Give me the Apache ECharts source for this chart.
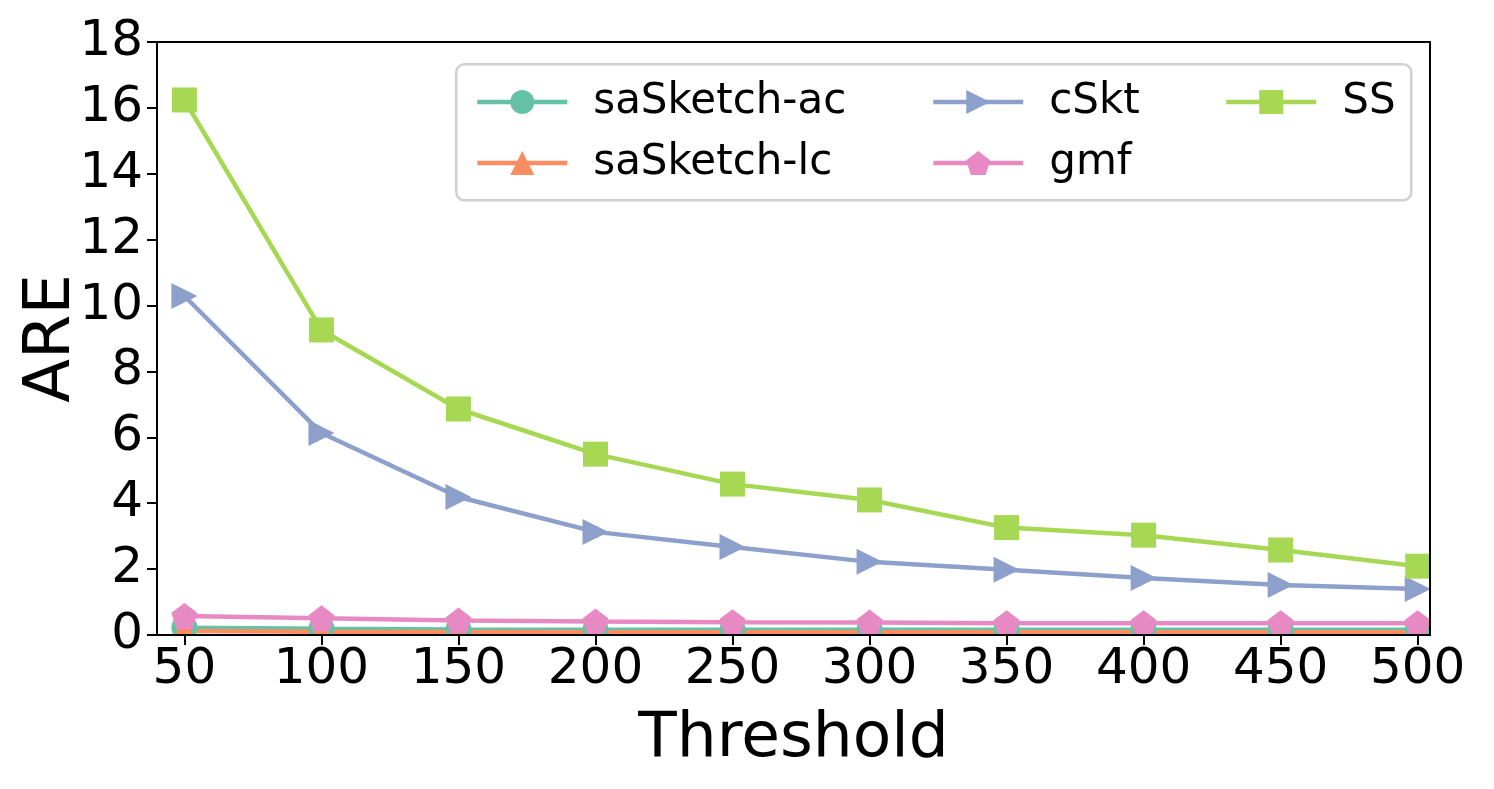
<!DOCTYPE html>
<html>
<head>
<meta charset="utf-8">
<script src="https://cdn.jsdelivr.net/npm/echarts@6/dist/echarts.min.js"></script>
<style>html,body{margin:0;padding:0;background:#fff}#c{width:1494px;height:789px}</style>
</head>
<body>
<div id="c"></div>
<script>
const thresholds = [50, 100, 150, 200, 250, 300, 350, 400, 450, 500];
const saSketchAc = [0.22, 0.19, 0.17, 0.16, 0.16, 0.16, 0.16, 0.16, 0.16, 0.16];
const saSketchLc = [0.12, 0.10, 0.09, 0.08, 0.08, 0.08, 0.08, 0.08, 0.08, 0.08];
const cSkt = [10.29, 6.13, 4.19, 3.13, 2.67, 2.22, 1.98, 1.73, 1.52, 1.40];
const gmf = [0.58, 0.51, 0.44, 0.41, 0.39, 0.38, 0.36, 0.36, 0.36, 0.36];
const SS = [16.24, 9.26, 6.86, 5.49, 4.58, 4.10, 3.26, 3.03, 2.58, 2.09];
const yTicks = [0, 2, 4, 6, 8, 10, 12, 14, 16, 18];

const colors = ['#66c2a5', '#fc8d62', '#8da0cb', '#e78ac3', '#a6d854'];
const pentagon = 'path://M0,-1 L0.951,-0.309 L0.588,0.809 L-0.588,0.809 L-0.951,-0.309 Z';
const rightTri = 'path://M0,0 L1,0.5 L0,1 Z';
const FONT = 'DejaVu Sans';

const G = { left: 157, right: 64, top: 42, bottom: 154 };
const W = 1494, H = 789;

function pairs(vals) { return thresholds.map((t, i) => [t, vals[i]]); }
function mk(name, vals, color, symbol, size) {
  return {
    name: name, type: 'line', data: pairs(vals), color: color,
    symbol: symbol, symbolSize: size, showSymbol: true, z: 2,
    lineStyle: { width: 4.5, color: color },
    itemStyle: { color: color },
    emphasis: { disabled: true }, animation: false, clip: true
  };
}
const legendCommon = {
  orient: 'vertical', itemWidth: 90, itemHeight: 30, itemGap: 19,
  textStyle: { fontFamily: FONT, fontSize: 42, color: '#000', lineHeight: 42, padding: [0, 0, 0, 21] },
  lineStyle: { width: 4.5 },
  selectedMode: false, backgroundColor: 'transparent', z: 20
};
const chart = echarts.init(document.getElementById('c'), null, { renderer: 'canvas' });
chart.setOption({
  animation: false,
  backgroundColor: '#fff',
  grid: Object.assign({ show: true, borderColor: '#000', borderWidth: 2, backgroundColor: 'transparent',
    containLabel: false, outerBoundsMode: 'none', z: 10 }, G),
  xAxis: {
    type: 'value', min: 40, max: 504.5, z: 10,
    name: 'Threshold', nameLocation: 'middle', nameGap: 73,
    nameTextStyle: { fontFamily: FONT, fontSize: 63, color: '#000' },
    axisLine: { show: true, lineStyle: { color: '#000', width: 2 } },
    axisTick: { show: true, length: 10, lineStyle: { color: '#000', width: 2 }, customValues: thresholds },
    axisLabel: { fontFamily: FONT, fontSize: 50, color: '#000', margin: 10, customValues: thresholds },
    splitLine: { show: false }
  },
  yAxis: {
    type: 'value', min: 0, max: 18, interval: 2, z: 10,
    name: 'ARE', nameLocation: 'middle', nameGap: 73, nameMoveOverlap: false,
    nameTextStyle: { fontFamily: FONT, fontSize: 64, color: '#000' },
    axisLine: { show: true, lineStyle: { color: '#000', width: 2 } },
    axisTick: { show: true, length: 10, lineStyle: { color: '#000', width: 2 } },
    axisLabel: { fontFamily: FONT, fontSize: 50, color: '#000', margin: 14, customValues: yTicks },
    splitLine: { show: false }
  },
  legend: [
    Object.assign({}, legendCommon, { left: 470, top: 76, data: ['saSketch-ac', 'saSketch-lc'] }),
    Object.assign({}, legendCommon, { left: 926, top: 76, data: ['cSkt', 'gmf'] }),
    Object.assign({}, legendCommon, { left: 1219, top: 76, data: ['SS'] })
  ],
  graphic: [
    { type: 'rect', left: 455, top: 63, z: 15,
      shape: { width: 955, height: 136, r: 8 },
      style: { fill: 'rgba(255,255,255,0.8)', stroke: '#d0d0d0', lineWidth: 2.5 } },
    { type: 'rect', z: 5, silent: true,
      shape: { x: 0, y: H - G.bottom + 1, width: W, height: 30 }, style: { fill: '#fff' } },
    { type: 'rect', z: 5, silent: true,
      shape: { x: W - G.right + 1, y: 0, width: 40, height: H }, style: { fill: '#fff' } },
    { type: 'rect', z: 5, silent: true,
      shape: { x: G.left - 30, y: 0, width: 29, height: H - G.bottom + 1 }, style: { fill: '#fff' } }
  ],
  series: [
    mk('saSketch-ac', saSketchAc, colors[0], 'circle', 26),
    mk('saSketch-lc', saSketchLc, colors[1], 'triangle', 28),
    mk('cSkt', cSkt, colors[2], rightTri, 26),
    mk('gmf', gmf, colors[3], pentagon, 26),
    mk('SS', SS, colors[4], 'rect', 25)
  ]
});
</script>
</body>
</html>
